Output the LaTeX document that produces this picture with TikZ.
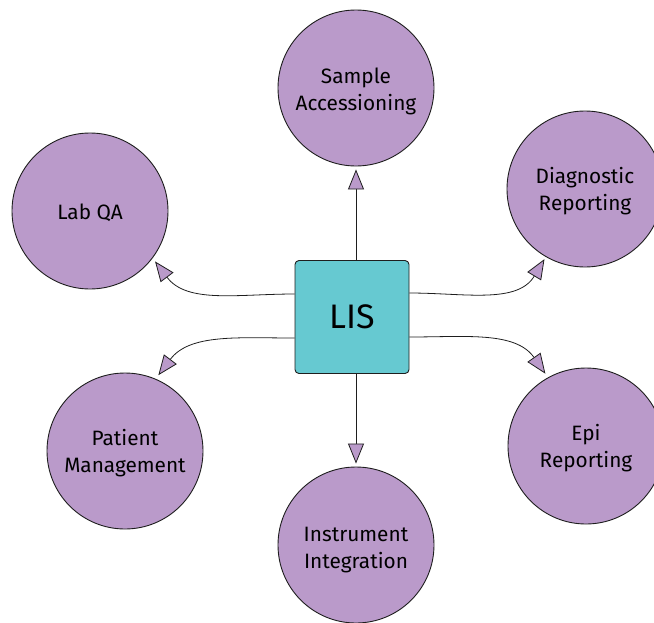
\documentclass[tikz,border=0pt]{standalone}
\usepackage{fontspec}
\setmainfont{Fira Sans}
\usetikzlibrary{arrows.meta}
\definecolor{hubfill}{HTML}{66C9D1}
\definecolor{spokefill}{HTML}{BA9ACA}
\definecolor{edgeline}{HTML}{1E1E1E}

\begin{document}
\begin{tikzpicture}[x=1pt,y=1pt,
  spoke/.style={circle, draw=edgeline, line width=0.9pt, fill=spokefill,
    minimum size=156pt, inner sep=0pt},
  caption/.style={align=center, inner sep=0pt,
    font=\fontsize{20.8}{27}\selectfont},
  hub/.style={rectangle, rounded corners=4pt, draw=edgeline, line width=0.9pt,
    fill=hubfill, minimum width=114pt, minimum height=113pt,
    font=\fontsize{34}{40}\selectfont},
  link/.style={draw=edgeline, line width=0.8pt,
    -{Triangle[length=20pt, width=16pt, fill=spokefill]}, shorten >=3pt}
]
\useasboundingbox (0,0) rectangle (654,-622);
\clip (0,0) rectangle (654,-622);

% central system
\node[hub] (lis) at (352,-317) {LIS};

% surrounding modules
\node[spoke, label={[caption, yshift=-3pt]center:Sample\\Accessioning}]   (sample)  at (356,-88)  {};
\node[spoke, label={[caption, yshift=-2pt]center:Diagnostic\\Reporting}]  (diag)    at (585,-189) {};
\node[spoke, label={[caption, yshift=-2pt]center:Lab QA}]                 (labqa)   at (90,-211)  {};
\node[spoke, label={[caption, yshift=-2.5pt]center:Patient\\Management}]  (patient) at (125,-451) {};
\node[spoke, label={[caption, yshift=-5pt]center:Instrument\\Integration}] (instr)  at (356,-545) {};
\node[spoke, label={[caption, yshift=-2pt]center:Epi\\Reporting}]         (epi)     at (586,-446) {};

% straight links
\draw[link] (sample.south |- lis.north) -- (sample);
\draw[link] (instr.north |- lis.south) -- (instr);

% curved links
\draw[link, shorten >=4pt] ([yshift=23pt]lis.west) to[out=180, in=-53] (labqa.-37);
\draw[link, shorten >=2.5pt] ([yshift=24pt]lis.east) to[out=0, in=-121] (diag.-120);
\draw[link, shorten >=4.5pt] ([yshift=-21pt]lis.west) to[out=180, in=53] (patient.67);
\draw[link, shorten >=4.5pt] ([yshift=-20pt]lis.east) to[out=0, in=125] (epi.119);
\end{tikzpicture}
\end{document}
